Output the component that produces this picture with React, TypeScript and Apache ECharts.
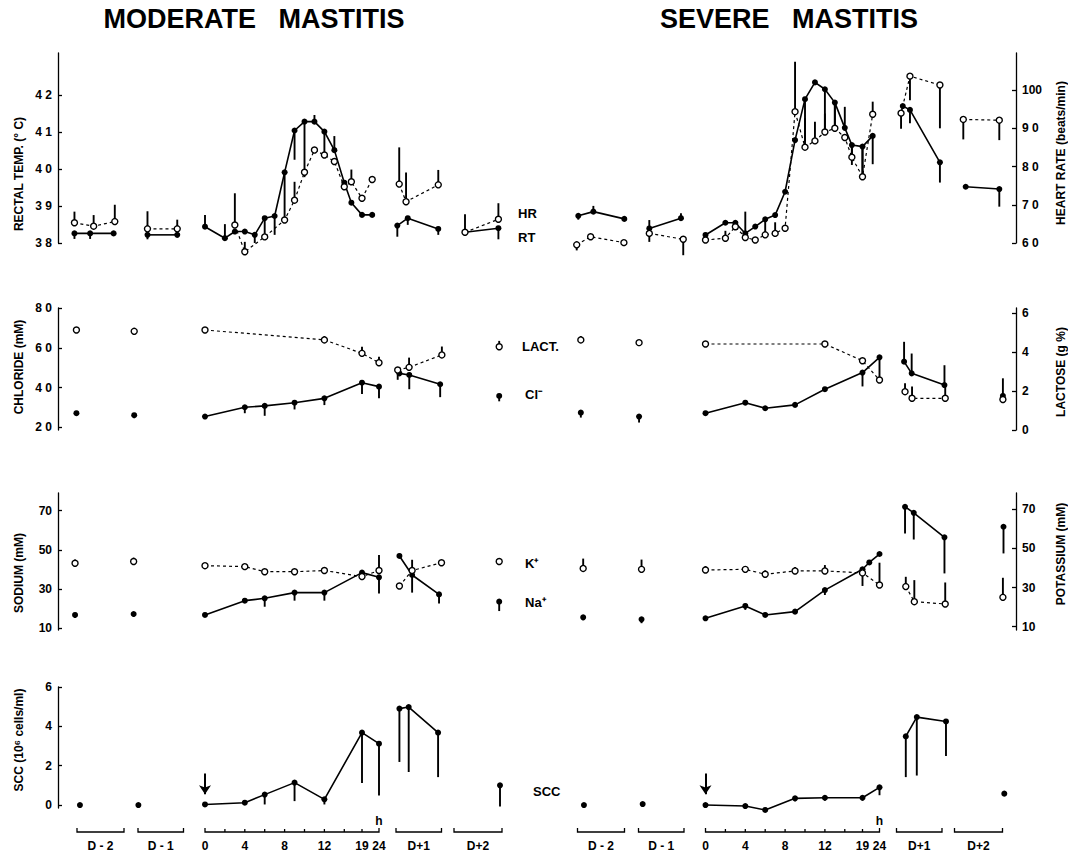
import React, { useEffect, useRef } from 'react';
import * as echarts from 'echarts';

type Panel = 'mod' | 'sev';
type Seg = { h: number[]; v: number[]; e: number[] };
type SeriesData = Record<string, Seg>;

// ---------- sampling hours ----------
const HOURS_VITAL = [0, 2, 3, 4, 5, 6, 7, 8, 9, 10, 11, 12, 13, 14, 16, 19, 22];
const HOURS_VITAL_OPEN_MOD = [3, 4, 6, 8, 9, 10, 11, 12, 13, 14, 16, 19, 22];
const HOURS_MILK = [0, 4, 6, 9, 12, 19, 24];
const HOURS_LACT = [0, 12, 19, 24];
const HOURS_NA_SEV = [0, 4, 6, 9, 12, 19, 21, 24];

// ---------- row 1 : rectal temperature (°C) / heart rate (beats/min) ----------
const MOD_RT: SeriesData = {
  'D-2': { h: [-1.3, 6.7, 18.7], v: [38.26, 38.26, 38.26], e: [-0.15, -0.15, 0] },
  'D-1': { h: [5.0, 20.7], v: [38.22, 38.22], e: [-0.12, 0] },
  H: {
    h: HOURS_VITAL,
    v: [38.44, 38.13, 38.31, 38.31, 38.22, 38.67, 38.73, 39.91, 41.04, 41.28, 41.28, 41.01, 40.51, 39.63, 39.09, 38.76, 38.76],
    e: [0.32, 0.38, 0, 0, -0.22, -0.45, -0.51, -1.29, -0.79, -1.5, 0.18, -0.68, 0.38, 0, 0, 0, 0],
  },
  'D+1': { h: [0.7, 6.2, 22.3], v: [38.47, 38.67, 38.38], e: [-0.3, -0.18, -0.16] },
  'D+2': { h: [5.5, 22.2], v: [38.29, 38.4], e: [0, -0.3] },
};
const MOD_HR: SeriesData = {
  'D-2': { h: [-1.3, 8.5, 19.3], v: [65.3, 64.4, 65.6], e: [2.9, 2.9, 4.4] },
  'D-1': { h: [5.0, 20.7], v: [63.7, 63.7], e: [4.6, 2.4] },
  H: {
    h: HOURS_VITAL_OPEN_MOD,
    v: [64.7, 57.7, 61.6, 66.0, 71.2, 78.5, 84.3, 83.0, 81.3, 74.7, 76.0, 71.7, 76.6],
    e: [8.3, 2.6, 0, 0, 4.8, 0, 0, 0, 0, 0, 3.2, 0, 0],
  },
  'D+1': { h: [1.7, 5.3, 22.3], v: [75.4, 70.8, 75.2], e: [9.6, 7.6, 3.9] },
  'D+2': { h: [5.5, 22.2], v: [62.8, 66.2], e: [4.7, 4.2] },
};
const SEV_HR: SeriesData = {
  'D-2': { h: [0.4, 8.1, 23.9], v: [67.1, 68.2, 66.3], e: [-1, 1.5, 0] },
  'D-1': { h: [5.7, 22.4], v: [63.8, 66.5], e: [2.2, 1.3] },
  H: {
    h: HOURS_VITAL,
    v: [62.1, 65.3, 65.3, 62.5, 64.3, 66.2, 67.3, 73.4, 86.9, 97.6, 102.0, 100.2, 96.7, 90.1, 85.6, 85.2, 88.0],
    e: [0, 0, 0, 5.7, 0, 0, 0, 0, 0, -11, 0, -11, -6.7, 5.5, -5.2, -7.4, -7.4],
  },
  'D+1': { h: [2.4, 3.3, 7.1, 22.9], v: [93.9, 95.8, 94.8, 81.1], e: [-4, 0, -3.5, -5.3] },
  'D+2': { h: [5.6, 22.4], v: [74.7, 74.1], e: [0, -4.6] },
};
const SEV_RT: SeriesData = {
  'D-2': { h: [-0.4, 6.7, 23.7], v: [37.95, 38.17, 38.01], e: [-0.15, 0, 0] },
  'D-1': { h: [5.7, 23.6], v: [38.26, 38.1], e: [-0.23, -0.43] },
  H: {
    h: HOURS_VITAL,
    v: [38.08, 38.13, 38.44, 38.15, 38.08, 38.22, 38.26, 38.4, 41.55, 40.59, 40.76, 41.0, 41.1, 40.85, 40.32, 39.79, 41.48],
    e: [0, 0.2, 0, 0, 0, 0.4, 0.3, 0, 1.35, 0.78, 0.52, 0.5, 0.63, 0, 0.3, 0.8, 0.34],
  },
  'D+1': { h: [2.4, 7.1, 22.9], v: [41.51, 42.51, 42.27], e: [0, -0.65, -1.17] },
  'D+2': { h: [4.4, 22.4], v: [41.34, 41.32], e: [-0.54, -0.54] },
};

// ---------- row 2 : chloride (mM) / lactose (g %) ----------
const MOD_CL: SeriesData = {
  'D-2': { h: [-0.3], v: [27.1], e: [0] },
  'D-1': { h: [-2.0], v: [26.1], e: [-1.5] },
  H: { h: HOURS_MILK, v: [25.4, 30.1, 30.8, 32.4, 34.6, 42.5, 40.5], e: [0, -3, -5, -3.4, -3.4, -5.7, -5.9] },
  'D+1': { h: [1.8, 7.0, 23.3], v: [47.2, 46.4, 41.7], e: [3, -7.2, -6.5] },
  'D+2': { h: [22.6], v: [35.8], e: [-2.7] },
};
const MOD_LACT: SeriesData = {
  'D-2': { h: [-0.3], v: [5.14], e: [0] },
  'D-1': { h: [-2.0], v: [5.07], e: [0] },
  H: { h: HOURS_LACT, v: [5.14, 4.63, 3.94, 3.46], e: [0, 0.2, 0.34, 0.3] },
  'D+1': { h: [0.9, 6.9, 24.2], v: [3.08, 3.22, 3.86], e: [-0.5, 0.5, 0.43] },
  'D+2': { h: [22.6], v: [4.28], e: [0.3] },
};
const SEV_CL: SeriesData = {
  'D-2': { h: [1.7], v: [27.4], e: [-2.5] },
  'D-1': { h: [0.3], v: [25.4], e: [-3] },
  H: { h: HOURS_MILK, v: [27.1, 32.4, 29.6, 31.3, 39.2, 47.6, 55.3], e: [0, 0, 0, 0, 0, -7, 0] },
  'D+1': { h: [4.0, 8.0, 25.3], v: [53.1, 47.2, 41.3], e: [10, 10, 10] },
  'D+2': { h: [24.2], v: [35.8], e: [8.9] },
};
const SEV_LACT: SeriesData = {
  'D-2': { h: [1.7], v: [4.63], e: [0.2] },
  'D-1': { h: [0.3], v: [4.49], e: [0.15] },
  H: { h: HOURS_LACT, v: [4.42, 4.42, 3.56, 2.57], e: [0, 0.15, 0, 1.2] },
  'D+1': { h: [4.5, 8.2, 25.7], v: [1.97, 1.63, 1.63], e: [0.43, 0.6, 0.6] },
  'D+2': { h: [24.2], v: [1.57], e: [0] },
};

// ---------- row 3 : sodium (mM) / potassium (mM) ----------
const MOD_NA: SeriesData = {
  'D-2': { h: [-1.0], v: [16.8], e: [-1.5] },
  'D-1': { h: [-2.3], v: [17.3], e: [-1.5] },
  H: { h: HOURS_MILK, v: [16.8, 24.1, 25.3, 28.2, 28.2, 38.4, 36.0], e: [0, 0, -4.3, -4.1, -4.1, 0, -8.2] },
  'D+1': { h: [1.8, 8.5, 22.7], v: [46.9, 37.2, 27.3], e: [0, -9, -4.6] },
  'D+2': { h: [22.6], v: [23.6], e: [-4.8] },
};
const MOD_K: SeriesData = {
  'D-2': { h: [-1.0], v: [42.4], e: [2] },
  'D-1': { h: [-2.3], v: [43.3], e: [2] },
  H: { h: HOURS_MILK, v: [41.2, 40.7, 38.1, 38.1, 38.7, 35.6, 38.7], e: [0, 0, 0, 0, 0, 0, 8] },
  'D+1': { h: [1.8, 8.5, 24], v: [30.8, 38.7, 42.7], e: [0, 5.5, 0] },
  'D+2': { h: [22.6], v: [43.3], e: [0] },
};
const SEV_NA: SeriesData = {
  'D-2': { h: [2.9], v: [15.6], e: [-1.5] },
  'D-1': { h: [1.6], v: [14.6], e: [-2] },
  H: { h: HOURS_NA_SEV, v: [15.1, 21.4, 16.8, 18.5, 29.5, 40.1, 43.6, 47.9], e: [0, -2, 0, 0, -2.5, -8.5, 0, 0] },
  'D+1': { h: [4.5, 9.1, 25.3], v: [72.0, 68.9, 56.4], e: [-13.6, -13.6, -18.4] },
  'D+2': { h: [24.5], v: [61.8], e: [-13.6] },
};
const SEV_K: SeriesData = {
  'D-2': { h: [2.9], v: [39.8], e: [5] },
  'D-1': { h: [1.6], v: [39.3], e: [5] },
  H: { h: HOURS_MILK, v: [39.0, 39.3, 36.8, 38.5, 38.5, 37.5, 31.3], e: [2, 0, 2, 2, 3, 0, 11.4] },
  'D+1': { h: [4.9, 9.4, 25.7], v: [30.5, 22.8, 21.6], e: [5, 11, 11] },
  'D+2': { h: [24.2], v: [25.0], e: [10] },
};

// ---------- row 4 : somatic cell count (10^6 cells/ml) ----------
const MOD_SCC: SeriesData = {
  'D-2': { h: [1.5], v: [0.0], e: [0] },
  'D-1': { h: [0.2], v: [0.0], e: [0] },
  H: { h: HOURS_MILK, v: [0.03, 0.12, 0.53, 1.14, 0.29, 3.68, 3.12], e: [0, 0, -0.5, -0.94, -0.26, -2.56, -2.63] },
  'D+1': { h: [1.8, 6.7, 22.2], v: [4.9, 4.98, 3.68], e: [-2.71, -3.3, -2.26] },
  'D+2': { h: [23], v: [1.0], e: [-1.07] },
};
const SEV_SCC: SeriesData = {
  'D-2': { h: [3.3], v: [0.0], e: [0] },
  'D-1': { h: [2.2], v: [0.05], e: [0] },
  H: { h: HOURS_MILK, v: [0.0, -0.05, -0.25, 0.34, 0.37, 0.37, 0.9], e: [0, 0, 0, -0.15, -0.15, -0.15, -0.4] },
  'D+1': { h: [4.9, 10.7, 26.1], v: [3.49, 4.47, 4.25], e: [-2.07, -2.97, -1.76] },
  'D+2': { h: [24.9], v: [0.58], e: [-0.1] },
};
const INOCULATION_ARROW = [1.6, 0.55]; // SCC units, start -> head

// ---------- axis ticks ----------
const RT_TICKS = [38, 39, 40, 41, 42];
const HR_TICKS = [60, 70, 80, 90, 100];
const CL_TICKS = [20, 40, 60, 80];
const LACT_TICKS = [0, 2, 4, 6];
const NA_TICKS = [10, 30, 50, 70];
const K_TICKS = [10, 30, 50, 70];
const SCC_TICKS = [0, 2, 4, 6];
const HOUR_LABELS = [0, 4, 8, 12, 19, 24];
const HOUR_TICKS = [2, 4, 6, 8, 10, 12, 14, 19];
const DAY_LABELS: Record<string, string> = { 'D-2': 'D - 2', 'D-1': 'D - 1', 'D+1': 'D+1', 'D+2': 'D+2' };

// ---------- layout (timeline units, 1 unit = 1 px) ----------
const PANEL_ORIGIN: Record<Panel, number> = { mod: 0, sev: 500.5 };
const DAY_SEG: Record<string, [number, number]> = {
  'D-2': [-128, -81],
  'D-1': [-67, -21.5],
  'D+1': [191, 236.5],
  'D+2': [249, 297],
};
const HOUR_BREAKS: [number, number][] = [[0, 0], [14, 139.3], [19, 157], [24, 174]];
const X_MIN = -147;
const X_MAX = 811;
const FONT = "'Liberation Sans', Arial, Helvetica, sans-serif";

function hourPos(h: number): number {
  for (let i = 1; i < HOUR_BREAKS.length; i++) {
    const [h0, p0] = HOUR_BREAKS[i - 1];
    const [h1, p1] = HOUR_BREAKS[i];
    if (h <= h1 || i === HOUR_BREAKS.length - 1) return p0 + ((h - h0) * (p1 - p0)) / (h1 - h0);
  }
  return 0;
}
function xPos(panel: Panel, seg: string, h: number): number {
  const o = PANEL_ORIGIN[panel];
  if (seg === 'H') return o + hourPos(h);
  const [a, b] = DAY_SEG[seg];
  return o + a + (h / 24) * (b - a);
}

function spaced(v: number): string {
  const s = String(v);
  return s.length === 2 ? s[0] + ' ' + s[1] : s;
}

function buildSeries(
  out: any[],
  grid: number,
  yAxis: number,
  panel: Panel,
  data: SeriesData,
  open: boolean,
  name: string,
  arrow?: number[]
) {
  const bars: number[][] = [];
  Object.keys(data).forEach((seg) => {
    const d = data[seg];
    const pts = d.h.map((hh, i) => [xPos(panel, seg, hh), d.v[i]]);
    d.e.forEach((err, i) => {
      if (err !== 0) bars.push([pts[i][0], d.v[i], d.v[i] + err]);
    });
    const s: any = {
      type: 'line',
      name,
      xAxisIndex: grid,
      yAxisIndex: yAxis,
      data: pts,
      symbol: 'circle',
      symbolSize: open ? 6 : 6,
      showSymbol: true,
      clip: false,
      silent: true,
      z: open ? 4 : 3,
      lineStyle: { color: '#000', width: open ? 1.2 : 1.6, type: open ? [3, 3] : 'solid' },
      itemStyle: open ? { color: '#fff', borderColor: '#000', borderWidth: 1.4 } : { color: '#000' },
    };
    if (arrow && seg === 'H') {
      const x0 = xPos(panel, 'H', 0);
      s.markLine = {
        silent: true,
        symbol: ['none', 'arrow'],
        symbolSize: 9,
        label: { show: false },
        lineStyle: { color: '#000', width: 2, type: 'solid' },
        data: [[{ coord: [x0, arrow[0]] }, { coord: [x0, arrow[1]] }]],
      };
    }
    out.push(s);
  });
  out.push({
    type: 'custom',
    name: name + ' SD',
    xAxisIndex: grid,
    yAxisIndex: yAxis,
    data: bars,
    clip: false,
    silent: true,
    z: 2,
    encode: { x: 0, y: [1, 2] },
    renderItem: (_p: any, api: any) => {
      const a = api.coord([api.value(0), api.value(1)]);
      const b = api.coord([api.value(0), api.value(2)]);
      return {
        type: 'line',
        shape: { x1: a[0], y1: a[1], x2: b[0], y2: b[1] },
        style: { stroke: '#000', lineWidth: 1.9 },
      };
    },
  });
}

function yAxisDef(grid: number, pos: 'left' | 'right', min: number, max: number, ticks: number[], fmt: (v: number) => string) {
  return {
    gridIndex: grid,
    type: 'value',
    position: pos,
    min,
    max,
    splitLine: { show: false },
    axisLine: { show: true, onZero: false, lineStyle: { color: '#000', width: 1.3 } },
    axisTick: { show: true, inside: true, length: 4, customValues: ticks, lineStyle: { color: '#000', width: 1.3 } },
    axisLabel: {
      customValues: ticks,
      formatter: (v: number) => fmt(v),
      color: '#000',
      fontWeight: 'bold',
      fontSize: 12,
      fontFamily: FONT,
      margin: 6,
    },
  };
}

function text(x: number, y: number, t: string, size: number, align: string, rot = 0, weight = 'bold', family = FONT) {
  return {
    type: 'text',
    x,
    y,
    rotation: rot,
    silent: true,
    style: {
      text: t,
      fill: '#000',
      font: `${weight} ${size}px ${family}`,
      align,
      verticalAlign: 'middle',
      textAlign: align,
      textVerticalAlign: 'middle',
    },
  };
}

export default function App() {
  const ref = useRef<HTMLDivElement>(null);
  useEffect(() => {
    if (!ref.current) return;
    const chart = echarts.init(ref.current, undefined, { renderer: 'svg' });

    const grids = [
      { top: 53, height: 190 },
      { top: 308, height: 122 },
      { top: 493, height: 137 },
      { top: 687, height: 121 },
      { top: 812, height: 40 },
    ].map((g) => ({ left: 58, right: 52, top: g.top, height: g.height, containLabel: false }));

    const xAxes = grids.map((_g, i) => ({ gridIndex: i, type: 'value', min: X_MIN, max: X_MAX, show: false }));

    const yAxes: any[] = [
      yAxisDef(0, 'left', 38, 38 + 190 / 37, RT_TICKS, spaced),
      yAxisDef(0, 'right', 60, 60 + 190 / 3.825, HR_TICKS, spaced),
      yAxisDef(1, 'left', 18.64, 80.15, CL_TICKS, spaced),
      yAxisDef(1, 'right', 0, 6.27, LACT_TICKS, (v) => String(v)),
      yAxisDef(2, 'left', 9.13, 79.03, NA_TICKS, (v) => String(v)),
      yAxisDef(2, 'right', 8.31, 78.33, K_TICKS, (v) => String(v)),
      yAxisDef(3, 'left', -0.15, 6, SCC_TICKS, (v) => String(v)),
      { gridIndex: 4, type: 'value', min: 0, max: 40, inverse: true, show: false },
    ];

    const series: any[] = [];
    buildSeries(series, 0, 0, 'mod', MOD_RT, false, 'RT moderate');
    buildSeries(series, 0, 1, 'mod', MOD_HR, true, 'HR moderate');
    buildSeries(series, 0, 1, 'sev', SEV_HR, false, 'HR severe');
    buildSeries(series, 0, 0, 'sev', SEV_RT, true, 'RT severe');
    buildSeries(series, 1, 2, 'mod', MOD_CL, false, 'Cl moderate');
    buildSeries(series, 1, 3, 'mod', MOD_LACT, true, 'Lactose moderate');
    buildSeries(series, 1, 2, 'sev', SEV_CL, false, 'Cl severe');
    buildSeries(series, 1, 3, 'sev', SEV_LACT, true, 'Lactose severe');
    buildSeries(series, 2, 4, 'mod', MOD_NA, false, 'Na moderate');
    buildSeries(series, 2, 5, 'mod', MOD_K, true, 'K moderate');
    buildSeries(series, 2, 4, 'sev', SEV_NA, false, 'Na severe');
    buildSeries(series, 2, 5, 'sev', SEV_K, true, 'K severe');
    buildSeries(series, 3, 6, 'mod', MOD_SCC, false, 'SCC moderate', INOCULATION_ARROW);
    buildSeries(series, 3, 6, 'sev', SEV_SCC, false, 'SCC severe', INOCULATION_ARROW);

    // bottom time axis: brackets, hour ticks and labels
    const panels: Panel[] = ['mod', 'sev'];
    const brackets: number[][] = [];
    const ticks: number[][] = [];
    const labels: { x: number; y: number; t: string }[] = [];
    panels.forEach((p) => {
      Object.keys(DAY_SEG).forEach((k) => {
        const a = xPos(p, k, 0);
        const b = xPos(p, k, 24);
        brackets.push([a, b]);
        labels.push({ x: (a + b) / 2, y: 34, t: DAY_LABELS[k] });
      });
      brackets.push([xPos(p, 'H', 0), xPos(p, 'H', 24)]);
      HOUR_TICKS.forEach((h) => ticks.push([xPos(p, 'H', h)]));
      HOUR_LABELS.forEach((h) => labels.push({ x: xPos(p, 'H', h), y: 34, t: String(h) }));
      labels.push({ x: xPos(p, 'H', 24), y: 9, t: 'h' });
    });
    series.push({
      type: 'custom',
      name: 'day brackets',
      xAxisIndex: 4,
      yAxisIndex: 7,
      data: brackets,
      clip: false,
      silent: true,
      renderItem: (_p: any, api: any) => {
        const a = api.coord([api.value(0), 20]);
        const b = api.coord([api.value(1), 20]);
        const t = api.coord([api.value(0), 16]);
        return {
          type: 'polyline',
          shape: { points: [[a[0], t[1]], [a[0], a[1]], [b[0], b[1]], [b[0], t[1]]] },
          style: { stroke: '#000', fill: 'none', lineWidth: 1.3 },
        };
      },
    });
    series.push({
      type: 'custom',
      name: 'hour ticks',
      xAxisIndex: 4,
      yAxisIndex: 7,
      data: ticks,
      clip: false,
      silent: true,
      renderItem: (_p: any, api: any) => {
        const a = api.coord([api.value(0), 20]);
        const t = api.coord([api.value(0), 17]);
        return { type: 'line', shape: { x1: a[0], y1: a[1], x2: t[0], y2: t[1] }, style: { stroke: '#000', lineWidth: 1.3 } };
      },
    });
    series.push({
      type: 'custom',
      name: 'time labels',
      xAxisIndex: 4,
      yAxisIndex: 7,
      data: labels.map((l) => [l.x, l.y]),
      clip: false,
      silent: true,
      renderItem: (p: any, api: any) => {
        const c = api.coord([api.value(0), api.value(1)]);
        return {
          type: 'text',
          x: c[0],
          y: c[1],
          style: {
            text: labels[p.dataIndex].t,
            fill: '#000',
            font: `bold 12px ${FONT}`,
            align: 'center',
            verticalAlign: 'middle',
          },
        };
      },
    });

    const NARROW = "'Liberation Sans Narrow', 'Arial Narrow', 'Liberation Sans', Arial, sans-serif";
    const R = Math.PI / 2;
    const graphic = [
      text(254, 19, 'MODERATE   MASTITIS', 27, 'center', 0, 'bold', NARROW),
      text(789, 19, 'SEVERE   MASTITIS', 27, 'center', 0, 'bold', NARROW),
      text(19, 174, 'RECTAL TEMP. (° C)', 12, 'center', R),
      text(19, 367, 'CHLORIDE (mM)', 12, 'center', R),
      text(19, 573, 'SODIUM (mM)', 12, 'center', R),
      text(19, 740, 'SCC (10⁶ cells/ml)', 12, 'center', R),
      text(1061, 153, 'HEART RATE (beats/min)', 12, 'center', R),
      text(1061, 372, 'LACTOSE (g %)', 12, 'center', R),
      text(1061, 554, 'POTASSIUM (mM)', 12, 'center', R),
      text(518, 213, 'HR', 13, 'left'),
      text(518, 237, 'RT', 13, 'left'),
      text(522, 346, 'LACT.', 13, 'left'),
      text(525, 394, 'Cl⁻', 13, 'left'),
      text(525, 563, 'K⁺', 13, 'left'),
      text(525, 602, 'Na⁺', 13, 'left'),
      text(533, 791, 'SCC', 13, 'left'),
    ];

    chart.setOption({
      animation: false,
      backgroundColor: '#fff',
      grid: grids,
      xAxis: xAxes,
      yAxis: yAxes,
      series,
      graphic,
    });
    return () => chart.dispose();
  }, []);
  return <div ref={ref} style={{ position: 'absolute', left: 0, top: 0, width: 1068, height: 856 }} />;
}
